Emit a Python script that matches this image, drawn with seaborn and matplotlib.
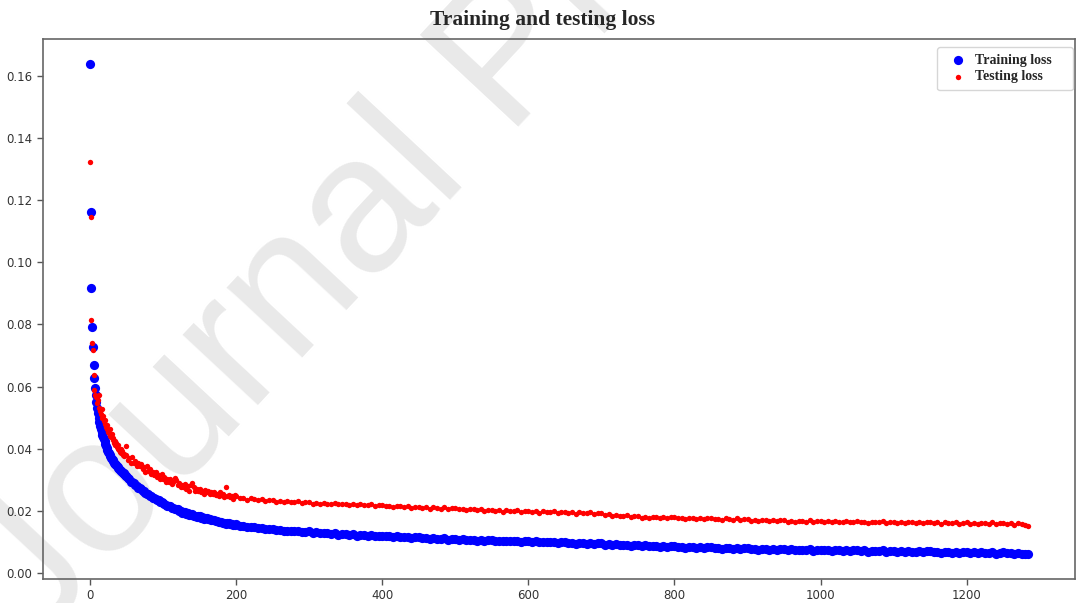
import numpy as np
import pandas as pd
import matplotlib
matplotlib.use("Agg")
import matplotlib.pyplot as plt
import seaborn as sns

# ---------------- data ----------------
title = "Training and testing loss"
train_label = "Training loss"
test_label = "Testing loss"
watermark = "Journal Pre-proof"

# every epoch for 0..49, every 2nd epoch for 50..198, every 5th for 200..1280, then the last epoch
epochs = list(range(0, 50)) + list(range(50, 200, 2)) + list(range(200, 1285, 5)) + [1284]

train_loss = [
    # 0 .. 49
    0.1639, 0.1161, 0.0918, 0.0793, 0.0727, 0.0668, 0.0628, 0.0596, 0.0572, 0.0549,
    0.0531, 0.0514, 0.0499, 0.0486, 0.0474, 0.0463, 0.0452, 0.0445, 0.0437, 0.0430,
    0.0424, 0.0416, 0.0409, 0.0402, 0.0396, 0.0390, 0.0385, 0.0380, 0.0375, 0.0371,
    0.0367, 0.0363, 0.0359, 0.0355, 0.0352, 0.0349, 0.0346, 0.0343, 0.0340, 0.0337,
    0.0334, 0.0332, 0.0329, 0.0327, 0.0324, 0.0322, 0.0320, 0.0318, 0.0315, 0.0313,
    # 50 .. 198 step 2
    0.0312, 0.0304, 0.0301, 0.0294, 0.0292, 0.0290, 0.0283, 0.0280, 0.0274, 0.0273,
    0.0271, 0.0264, 0.0263, 0.0256, 0.0255, 0.0254, 0.0248, 0.0246, 0.0241, 0.0241,
    0.0239, 0.0233, 0.0233, 0.0227, 0.0227, 0.0226, 0.0221, 0.0219, 0.0215, 0.0215,
    0.0214, 0.0209, 0.0209, 0.0204, 0.0204, 0.0204, 0.0199, 0.0198, 0.0194, 0.0195,
    0.0195, 0.0190, 0.0191, 0.0186, 0.0187, 0.0188, 0.0183, 0.0183, 0.0180, 0.0182,
    0.0182, 0.0178, 0.0179, 0.0174, 0.0175, 0.0176, 0.0172, 0.0172, 0.0169, 0.0171,
    0.0170, 0.0166, 0.0167, 0.0163, 0.0164, 0.0165, 0.0161, 0.0161, 0.0158, 0.0160,
    0.0160, 0.0156, 0.0157, 0.0154, 0.0155,
    # 200 .. 1245 step 5
    0.0156, 0.0151, 0.0151, 0.0147, 0.0148, 0.0146, 0.0143, 0.0145, 0.0140, 0.0142,
    0.0141, 0.0137, 0.0138, 0.0134, 0.0136, 0.0134, 0.0133, 0.0135, 0.0130, 0.0132,
    0.0133, 0.0129, 0.0130, 0.0127, 0.0129, 0.0127, 0.0126, 0.0128, 0.0123, 0.0126,
    0.0126, 0.0122, 0.0124, 0.0120, 0.0123, 0.0121, 0.0120, 0.0122, 0.0117, 0.0120,
    0.0120, 0.0117, 0.0118, 0.0115, 0.0117, 0.0115, 0.0114, 0.0116, 0.0112, 0.0114,
    0.0115, 0.0111, 0.0113, 0.0109, 0.0112, 0.0110, 0.0109, 0.0111, 0.0107, 0.0109,
    0.0110, 0.0106, 0.0108, 0.0105, 0.0107, 0.0106, 0.0104, 0.0107, 0.0103, 0.0105,
    0.0106, 0.0103, 0.0104, 0.0101, 0.0104, 0.0102, 0.0101, 0.0104, 0.0099, 0.0102,
    0.0103, 0.0099, 0.0101, 0.0098, 0.0100, 0.0099, 0.0098, 0.0100, 0.0096, 0.0099,
    0.0099, 0.0096, 0.0097, 0.0094, 0.0097, 0.0095, 0.0094, 0.0096, 0.0092, 0.0095,
    0.0095, 0.0091, 0.0093, 0.0089, 0.0092, 0.0090, 0.0089, 0.0091, 0.0087, 0.0089,
    0.0090, 0.0087, 0.0088, 0.0085, 0.0087, 0.0086, 0.0084, 0.0087, 0.0083, 0.0085,
    0.0086, 0.0082, 0.0084, 0.0081, 0.0083, 0.0082, 0.0081, 0.0083, 0.0079, 0.0082,
    0.0082, 0.0079, 0.0081, 0.0078, 0.0080, 0.0079, 0.0078, 0.0081, 0.0076, 0.0079,
    0.0080, 0.0077, 0.0078, 0.0075, 0.0078, 0.0077, 0.0075, 0.0078, 0.0074, 0.0077,
    0.0077, 0.0074, 0.0076, 0.0073, 0.0075, 0.0074, 0.0073, 0.0076, 0.0071, 0.0074,
    0.0075, 0.0072, 0.0074, 0.0070, 0.0073, 0.0072, 0.0071, 0.0074, 0.0069, 0.0072,
    0.0073, 0.0070, 0.0072, 0.0068, 0.0071, 0.0070, 0.0069, 0.0072, 0.0067, 0.0070,
    0.0071, 0.0068, 0.0070, 0.0067, 0.0069, 0.0068, 0.0067, 0.0070, 0.0066, 0.0069,
    0.0069, 0.0066, 0.0068, 0.0065, 0.0068, 0.0067, 0.0065, 0.0068, 0.0064, 0.0067,
    0.0068, 0.0065, 0.0067, 0.0063, 0.0066, 0.0065, 0.0064, 0.0067, 0.0062, 0.0065,
    # 1250 .. 1280 step 5, then 1284
    0.0066, 0.0063, 0.0064, 0.0061, 0.0064, 0.0062, 0.0060,
    0.0059,
]

test_loss = [
    # 0 .. 49
    0.1323, 0.1146, 0.0814, 0.0741, 0.0717, 0.0636, 0.0588, 0.0572, 0.0566, 0.0570,
    0.0548, 0.0556, 0.0531, 0.0573, 0.0520, 0.0512, 0.0526, 0.0498, 0.0505, 0.0489,
    0.0478, 0.0492, 0.0470, 0.0462, 0.0476, 0.0455, 0.0449, 0.0463, 0.0441, 0.0437,
    0.0446, 0.0428, 0.0433, 0.0419, 0.0425, 0.0412, 0.0418, 0.0405, 0.0398, 0.0410,
    0.0396, 0.0390, 0.0399, 0.0385, 0.0391, 0.0379, 0.0384, 0.0375, 0.0381, 0.0409,
    # 50 .. 198 step 2
    0.0380, 0.0364, 0.0369, 0.0354, 0.0372, 0.0355, 0.0360, 0.0344, 0.0353, 0.0343,
    0.0351, 0.0335, 0.0340, 0.0326, 0.0344, 0.0327, 0.0333, 0.0317, 0.0326, 0.0316,
    0.0325, 0.0310, 0.0315, 0.0301, 0.0319, 0.0303, 0.0309, 0.0293, 0.0302, 0.0293,
    0.0302, 0.0287, 0.0294, 0.0306, 0.0299, 0.0283, 0.0289, 0.0275, 0.0284, 0.0276,
    0.0285, 0.0271, 0.0278, 0.0264, 0.0284, 0.0290, 0.0276, 0.0262, 0.0271, 0.0263,
    0.0270, 0.0261, 0.0265, 0.0255, 0.0268, 0.0259, 0.0263, 0.0254, 0.0259, 0.0254,
    0.0260, 0.0251, 0.0255, 0.0247, 0.0260, 0.0250, 0.0254, 0.0245, 0.0277, 0.0246,
    0.0252, 0.0243, 0.0248, 0.0239, 0.0252,
    # 200 .. 1245 step 5
    0.0246, 0.0240, 0.0242, 0.0236, 0.0240, 0.0237, 0.0235, 0.0238, 0.0232, 0.0234,
    0.0234, 0.0229, 0.0231, 0.0227, 0.0231, 0.0228, 0.0227, 0.0230, 0.0225, 0.0227,
    0.0228, 0.0223, 0.0226, 0.0221, 0.0226, 0.0223, 0.0222, 0.0225, 0.0220, 0.0222,
    0.0223, 0.0219, 0.0221, 0.0217, 0.0221, 0.0219, 0.0217, 0.0221, 0.0215, 0.0218,
    0.0218, 0.0214, 0.0216, 0.0212, 0.0216, 0.0214, 0.0212, 0.0216, 0.0210, 0.0213,
    0.0213, 0.0209, 0.0211, 0.0207, 0.0211, 0.0209, 0.0207, 0.0211, 0.0205, 0.0208,
    0.0208, 0.0204, 0.0206, 0.0202, 0.0206, 0.0204, 0.0202, 0.0206, 0.0200, 0.0203,
    0.0203, 0.0199, 0.0201, 0.0197, 0.0202, 0.0199, 0.0198, 0.0202, 0.0196, 0.0199,
    0.0200, 0.0195, 0.0198, 0.0194, 0.0198, 0.0196, 0.0195, 0.0198, 0.0193, 0.0196,
    0.0196, 0.0192, 0.0195, 0.0190, 0.0195, 0.0193, 0.0191, 0.0195, 0.0189, 0.0191,
    0.0191, 0.0186, 0.0188, 0.0183, 0.0187, 0.0184, 0.0182, 0.0185, 0.0180, 0.0182,
    0.0183, 0.0178, 0.0181, 0.0177, 0.0181, 0.0179, 0.0178, 0.0181, 0.0176, 0.0179,
    0.0179, 0.0175, 0.0178, 0.0173, 0.0178, 0.0176, 0.0174, 0.0178, 0.0173, 0.0175,
    0.0176, 0.0172, 0.0174, 0.0170, 0.0175, 0.0172, 0.0171, 0.0175, 0.0169, 0.0172,
    0.0173, 0.0168, 0.0171, 0.0167, 0.0171, 0.0169, 0.0168, 0.0171, 0.0166, 0.0169,
    0.0169, 0.0165, 0.0168, 0.0164, 0.0168, 0.0166, 0.0165, 0.0169, 0.0164, 0.0166,
    0.0167, 0.0163, 0.0166, 0.0162, 0.0167, 0.0164, 0.0163, 0.0167, 0.0162, 0.0165,
    0.0166, 0.0162, 0.0164, 0.0160, 0.0165, 0.0163, 0.0162, 0.0166, 0.0161, 0.0164,
    0.0165, 0.0160, 0.0163, 0.0159, 0.0164, 0.0162, 0.0161, 0.0165, 0.0159, 0.0162,
    0.0163, 0.0159, 0.0162, 0.0158, 0.0163, 0.0161, 0.0159, 0.0163, 0.0158, 0.0161,
    0.0162, 0.0158, 0.0161, 0.0157, 0.0161, 0.0159, 0.0158, 0.0162, 0.0157, 0.0160,
    # 1250 .. 1280 step 5, then 1284
    0.0161, 0.0156, 0.0159, 0.0155, 0.0159, 0.0156, 0.0154,
    0.0152,
]

df = pd.DataFrame({"epoch": epochs, "train": train_loss, "test": test_loss})

# ---------------- figure ----------------
sns.set_style("white")
plt.rcParams["font.family"] = ["DejaVu Sans"]

W, H = 1076, 603
fig = plt.figure(figsize=(W / 100, H / 100), dpi=100)
fig.patch.set_facecolor("white")

# watermark behind everything
fig.text(36 / W, 1 - 644 / H, watermark, rotation=47, rotation_mode="anchor",
         ha="left", va="baseline", fontsize=140, color="#e9e9e9",
         family=["Liberation Sans"], zorder=0)

ax = fig.add_axes([43 / W, 1 - 579 / H, (1075 - 43) / W, (579 - 39.4) / H])
ax.set_facecolor("none")
ax.set_zorder(2)

sns.scatterplot(data=df, x="epoch", y="train", ax=ax, color="#0000ff", s=44,
                linewidth=0, label=train_label, zorder=3)
sns.scatterplot(data=df, x="epoch", y="test", ax=ax, color="#ff0000", s=15,
                linewidth=0, label=test_label, zorder=4)

ax.set_xlabel("")
ax.set_ylabel("")
ax.set_xticks([0, 200, 400, 600, 800, 1000, 1200])
ax.set_yticks([0.00, 0.02, 0.04, 0.06, 0.08, 0.10, 0.12, 0.14, 0.16])
ax.yaxis.set_major_formatter(matplotlib.ticker.FormatStrFormatter("%.2f"))
ax.tick_params(axis="both", which="both", labelsize=8.5, labelcolor="#333333",
               color="#555555", length=4, width=1, left=True, bottom=True,
               direction="out")
for side in ["left", "right", "top", "bottom"]:
    ax.spines[side].set_visible(True)
    ax.spines[side].set_color("#666666")
    ax.spines[side].set_linewidth(1.2)

ax.margins(x=0.05, y=0.05)

leg = ax.legend(loc="upper left", bbox_to_anchor=(0.8663, 0.9045, 0.1318, 0.0815),
                mode="expand", borderaxespad=0,
                prop={"family": "Liberation Serif", "weight": "bold", "size": 10},
                frameon=True, fancybox=True, edgecolor="#cccccc",
                handlelength=2.0, handletextpad=0.2, borderpad=0.5,
                labelspacing=0.25)
leg.get_frame().set_linewidth(1.0)

fig.text(543 / W, 1 - 20 / H, title, ha="center", va="center",
         fontsize=15.5, fontweight="bold", family=["Liberation Serif"])

fig.savefig("out.png", dpi=100, facecolor="white")
